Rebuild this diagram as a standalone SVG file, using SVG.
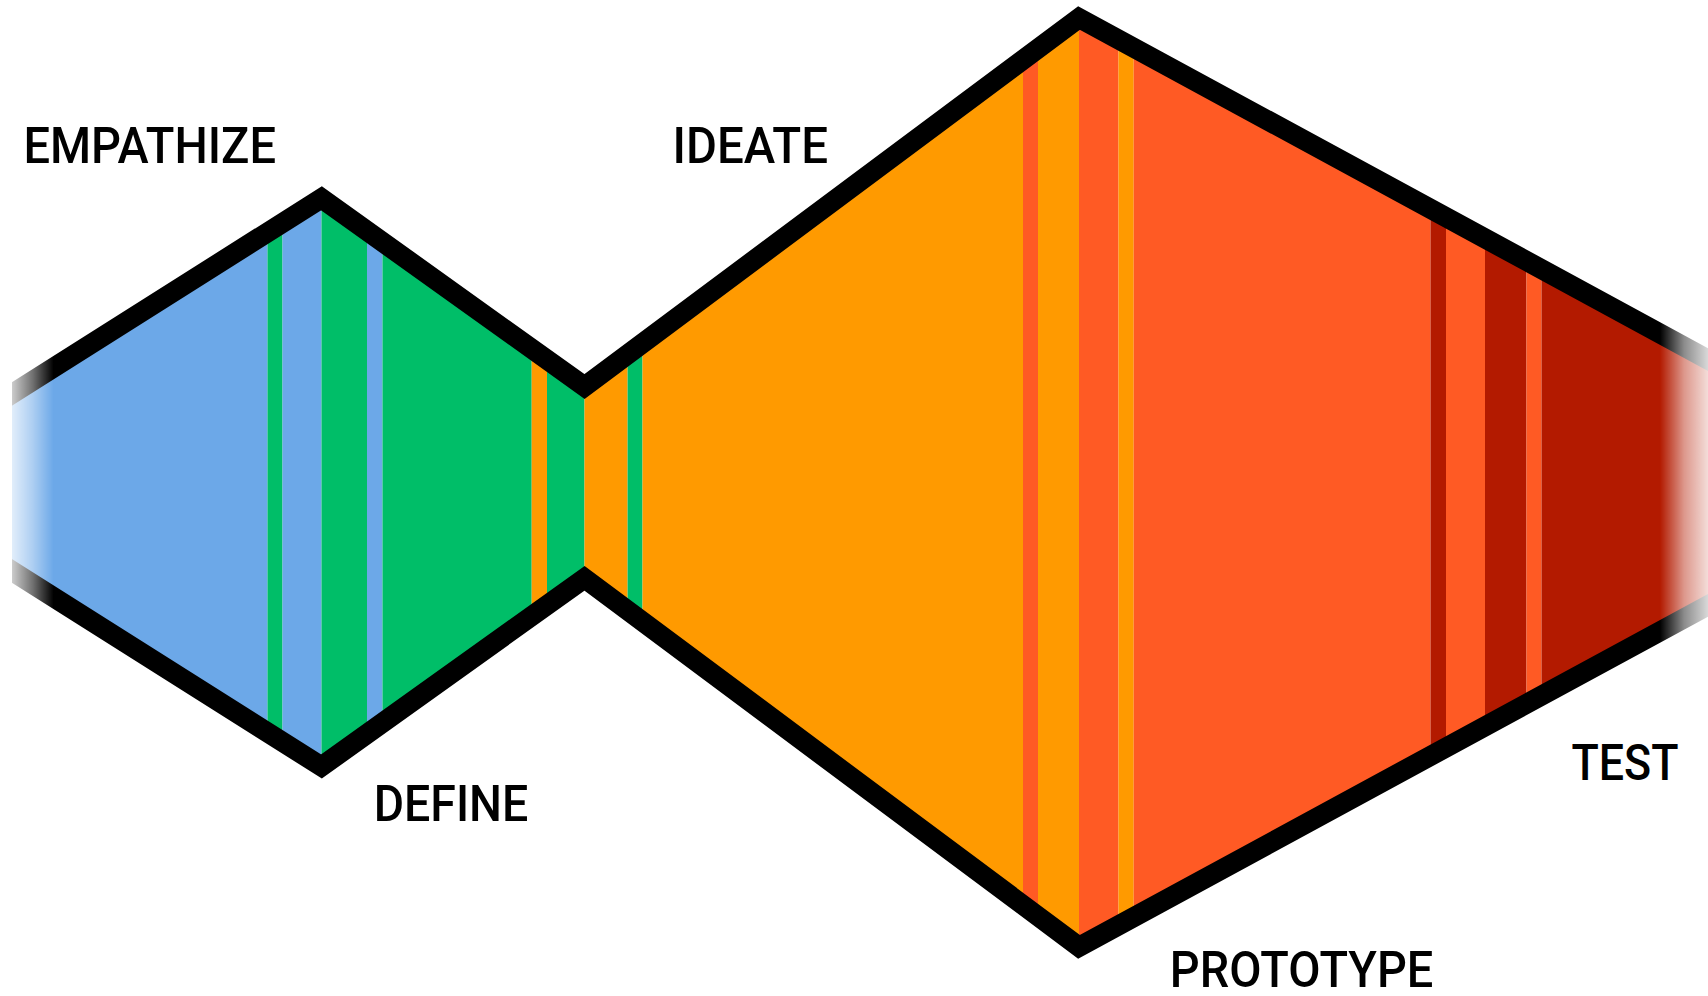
<svg xmlns="http://www.w3.org/2000/svg" width="1708" height="996" viewBox="0 0 1708 996">
  <style>
    .lbl { font-family: Roboto, "DejaVu Sans Condensed", "Liberation Sans", sans-serif; font-weight: 500; font-size: 50.5px; fill: #000; }
    .blue { fill: #6CA8E8; }
    .green { fill: #00BE68; }
    .orange { fill: #FF9A00; }
    .red { fill: #FF5A24; }
    .dark { fill: #B31A00; }
    .edge { fill: none; stroke: #000; stroke-width: 20; stroke-linejoin: miter; stroke-miterlimit: 10; }
  </style>
  <defs>
    <!-- soft fade at both open ends of the band -->
    <linearGradient id="fade" gradientUnits="userSpaceOnUse" x1="12" y1="0" x2="1708" y2="0">
      <stop offset="0" stop-color="#fff" stop-opacity="0.2"/>
      <stop offset="0.012" stop-color="#fff" stop-opacity="0.55"/>
      <stop offset="0.0245" stop-color="#fff" stop-opacity="1"/>
      <stop offset="0.9717" stop-color="#fff" stop-opacity="1"/>
      <stop offset="0.986" stop-color="#fff" stop-opacity="0.45"/>
      <stop offset="1" stop-color="#fff" stop-opacity="0.15"/>
    </linearGradient>
    <mask id="endFade" maskUnits="userSpaceOnUse" x="0" y="0" width="1708" height="996">
      <rect x="12" y="0" width="1696" height="996" fill="url(#fade)"/>
    </mask>
    <clipPath id="bandShape">
      <polygon points="0,401.5 321.5,198.3 584.5,386.5 1079,18 1720,366.1 1720,598.7 1079,946.8 584.5,578.3 321.5,766.5 0,563.3"/>
    </clipPath>
  </defs>

  <g id="band" mask="url(#endFade)">
    <g id="phase-stripes" clip-path="url(#bandShape)">
      <rect class="blue" x="0" y="0" width="267.5" height="996"/>
      <rect class="green" x="267.5" y="0" width="15" height="996"/>
      <rect class="blue" x="282.5" y="0" width="39" height="996"/>
      <rect class="green" x="321.5" y="0" width="45.5" height="996"/>
      <rect class="blue" x="367" y="0" width="15.5" height="996"/>
      <rect class="green" x="382.5" y="0" width="149.2" height="996"/>
      <rect class="orange" x="531.7" y="0" width="15.3" height="996"/>
      <rect class="green" x="547" y="0" width="37.5" height="996"/>
      <rect class="orange" x="584.5" y="0" width="43.1" height="996"/>
      <rect class="green" x="627.6" y="0" width="14.9" height="996"/>
      <rect class="orange" x="642.5" y="0" width="380.5" height="996"/>
      <rect class="red" x="1023" y="0" width="15" height="996"/>
      <rect class="orange" x="1038" y="0" width="41" height="996"/>
      <rect class="red" x="1079" y="0" width="39.5" height="996"/>
      <rect class="orange" x="1118.5" y="0" width="15.2" height="996"/>
      <rect class="red" x="1133.7" y="0" width="296.8" height="996"/>
      <rect class="dark" x="1430.5" y="0" width="15.5" height="996"/>
      <rect class="red" x="1446" y="0" width="39" height="996"/>
      <rect class="dark" x="1485" y="0" width="41.5" height="996"/>
      <rect class="red" x="1526.5" y="0" width="15" height="996"/>
      <rect class="dark" x="1541.5" y="0" width="178.5" height="996"/>
    </g>
    <g id="outline">
      <polyline class="edge" points="-20,414.1 321.5,198.3 584.5,386.5 1079,18 1740,376.9"/>
      <polyline class="edge" points="-20,550.7 321.5,766.5 584.5,578.3 1079,946.8 1740,587.9"/>
    </g>
  </g>

  <g id="empathize"><text class="lbl" x="23.5" y="162.5" textLength="252.5" lengthAdjust="spacingAndGlyphs">EMPATHIZE</text></g>
  <g id="ideate"><text class="lbl" x="672.5" y="162.7" textLength="155.5" lengthAdjust="spacingAndGlyphs">IDEATE</text></g>
  <g id="define"><text class="lbl" x="373.8" y="821" textLength="154.5" lengthAdjust="spacingAndGlyphs">DEFINE</text></g>
  <g id="prototype"><text class="lbl" x="1169.8" y="987.3" textLength="263.5" lengthAdjust="spacingAndGlyphs">PROTOTYPE</text></g>
  <g id="test"><text class="lbl" x="1571.5" y="780" textLength="107" lengthAdjust="spacingAndGlyphs">TEST</text></g>
</svg>
